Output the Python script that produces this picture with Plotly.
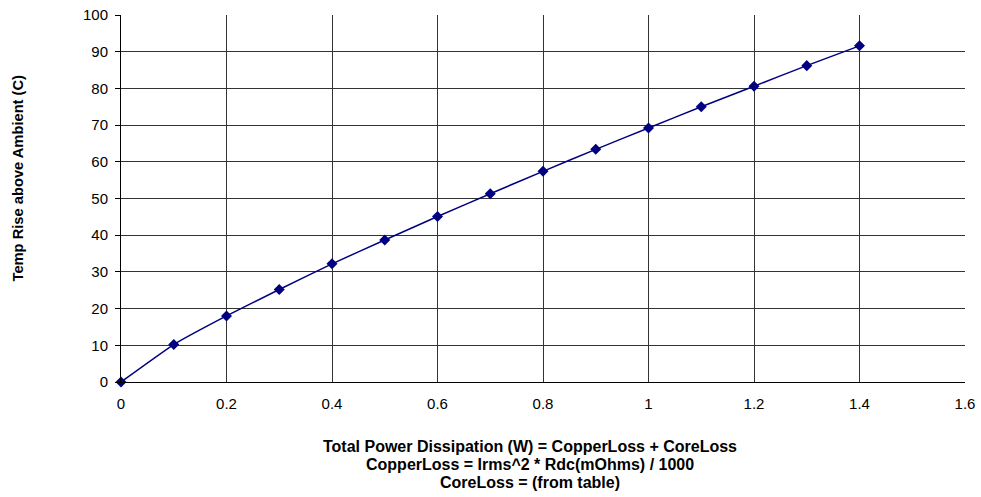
import plotly.graph_objects as go

power_w = [0, 0.1, 0.2, 0.3, 0.4, 0.5, 0.6, 0.7, 0.8, 0.9, 1.0, 1.1, 1.2, 1.3, 1.4]
temp_rise_c = [0, 10.2, 18.0, 25.2, 32.2, 38.7, 45.1, 51.3, 57.4, 63.4, 69.2, 75.0, 80.6, 86.2, 91.6]

x_ticks = [0, 0.2, 0.4, 0.6, 0.8, 1, 1.2, 1.4, 1.6]
x_tick_labels = ["0", "0.2", "0.4", "0.6", "0.8", "1", "1.2", "1.4", "1.6"]
y_ticks = list(range(0, 101, 10))

x_title_lines = [
    "Total Power Dissipation (W) = CopperLoss + CoreLoss",
    "CopperLoss = Irms^2 * Rdc(mOhms) / 1000",
    "CoreLoss = (from table)",
]
y_title = "Temp Rise above Ambient (C)"

fig = go.Figure()
fig.add_trace(go.Scatter(
    x=power_w, y=temp_rise_c, mode="lines+markers",
    line=dict(color="#000080", width=1.5, shape="spline", smoothing=0.4),
    marker=dict(symbol="diamond", size=8.5, color="#000080"),
    showlegend=False, cliponaxis=False,
))

annotations = [dict(
    text="<b>" + y_title + "</b>", xref="paper", yref="paper",
    x=0, y=0.5545, xshift=-103, xanchor="center", yanchor="middle",
    textangle=-90, showarrow=False, font=dict(size=14.7),
)]
for line, shift in zip(x_title_lines, [-64, -82.5, -100.5]):
    annotations.append(dict(
        text="<b>" + line + "</b>", xref="paper", yref="paper",
        x=0.485, y=0, yshift=shift, xanchor="center", yanchor="middle",
        showarrow=False, font=dict(size=16),
    ))

fig.update_layout(
    width=981, height=497,
    margin=dict(l=121, r=16, t=15, b=115, autoexpand=False),
    paper_bgcolor="white", plot_bgcolor="white",
    font=dict(family="Liberation Sans, Arial, sans-serif", size=15, color="black"),
    xaxis=dict(
        range=[0, 1.6], tickvals=x_ticks, ticktext=x_tick_labels,
        showgrid=True, gridcolor="#333333", gridwidth=1,
        showline=True, linecolor="black", linewidth=1,
        ticks="", ticklabelstandoff=8, zeroline=False,
        ticklabeloverflow="allow",
        tickfont=dict(size=15),
    ),
    yaxis=dict(
        range=[0, 100], tickvals=y_ticks,
        showgrid=True, gridcolor="#333333", gridwidth=1,
        showline=True, linecolor="black", linewidth=1,
        ticks="outside", ticklen=5, tickcolor="black",
        ticklabelstandoff=4, ticklabeloverflow="allow",
        zeroline=False, tickfont=dict(size=15),
    ),
    annotations=annotations,
)

fig.write_html(
    "out.html",
    config={"displayModeBar": False},
    post_script="document.body.style.margin='0';document.body.style.overflow='hidden';",
)
